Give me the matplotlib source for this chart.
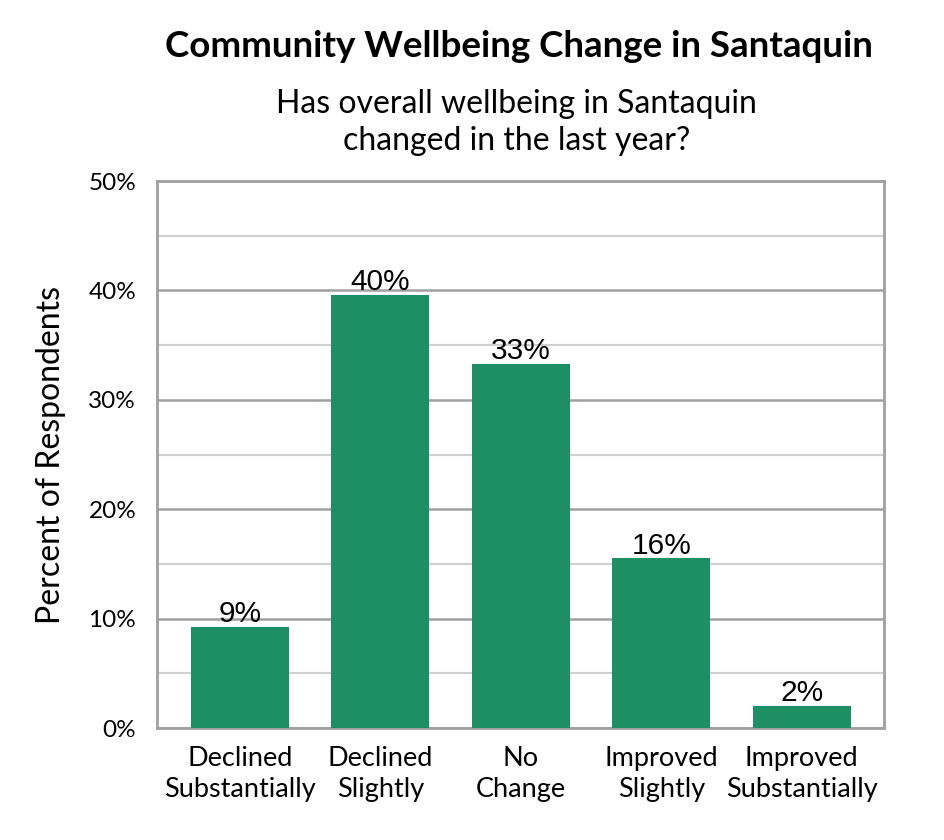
import numpy as np
import matplotlib.pyplot as plt

# Datos
categorias = ["Declined\nSubstantially", "Declined\nSlightly", "No\nChange",
              "Improved\nSlightly", "Improved\nSubstantially"]
porcentajes = [9.2, 39.6, 33.3, 15.5, 2.0]
etiquetas = ["9%", "40%", "33%", "16%", "2%"]

verde = "#1e8f65"
gris = "#a0a0a0"

fig = plt.figure(figsize=(9.45, 8.4), dpi=100)
ax = fig.add_axes([0.1661, 0.1333, 0.7693, 0.6512])

x = np.arange(len(categorias))
barras = ax.bar(x, porcentajes, width=0.70, color=verde, zorder=3)

# Etiquetas sobre las barras
for b, txt in zip(barras, etiquetas):
    ax.text(b.get_x() + b.get_width()/2, b.get_height() - 0.1, txt,
            ha="center", va="bottom", fontsize=21.5, family="Liberation Sans", zorder=4)

ax.set_xlim(-0.59, len(categorias) - 1 + 0.585)
ax.set_ylim(0, 50)
ax.set_yticks(np.arange(0, 51, 10))
ax.set_yticks(np.arange(5, 50, 10), minor=True)
ax.set_yticklabels([f"{v}%" for v in range(0, 51, 10)], fontsize=17.5, family="Lato")
ax.set_xticks(x)
ax.set_xticklabels(categorias, fontsize=19.5, family="Lato", linespacing=1.3)
ax.tick_params(axis="y", which="both", length=0, pad=15)
ax.tick_params(axis="x", which="both", length=0, pad=13)

ax.grid(axis="y", which="major", color=gris, linewidth=1.8, zorder=0)
ax.grid(axis="y", which="minor", color="#d0d0d0", linewidth=1.5, zorder=0)
for s in ax.spines.values():
    s.set_color(gris)
    s.set_linewidth(2)

ax.set_ylabel("Percent of Respondents", fontsize=23, family="Lato", labelpad=16)

fig.text(0.549, 0.945, "Community Wellbeing Change in Santaquin", ha="center", va="center",
         fontsize=26.5, fontweight="bold", family="Lato")
fig.text(0.547, 0.854, "Has overall wellbeing in Santaquin\nchanged in the last year?",
         ha="center", va="center", fontsize=23, family="Lato", linespacing=1.3)

fig.savefig("out.png", dpi=100)
